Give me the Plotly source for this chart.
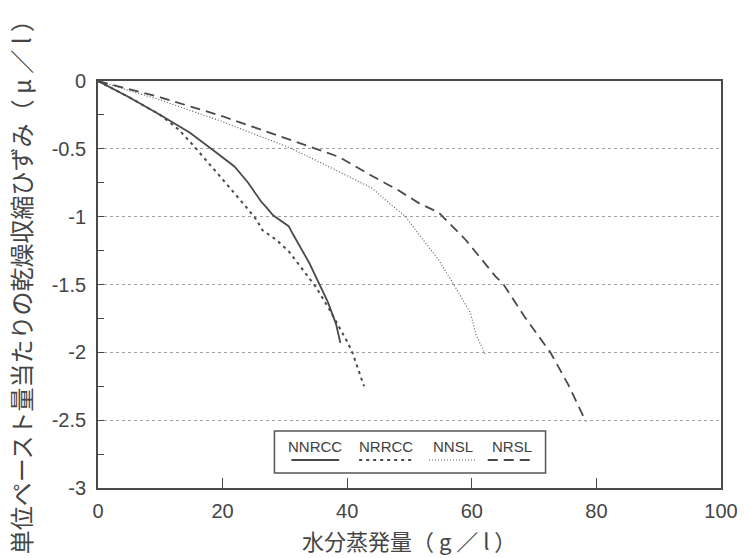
import plotly.graph_objects as go

# ---- data ----
nnrcc_x = [0, 5.0, 10.0, 14.7, 18.5, 21.9, 24.1, 26.2, 27.0, 28.1, 30.6, 31.3, 33.9, 35.5, 36.9, 38.2, 38.9]
nnrcc_y = [0, -0.12, -0.25, -0.38, -0.51, -0.63, -0.75, -0.89, -0.93, -0.99, -1.07, -1.13, -1.34, -1.49, -1.63, -1.79, -1.93]

nrrcc_x = [0, 5.0, 10.0, 13.0, 15.2, 16.3, 20.1, 23.8, 25.4, 26.4, 28.6, 30.7, 32.9, 35.0, 37.1, 38.7, 40.1, 40.9, 42.7]
nrrcc_y = [0, -0.12, -0.25, -0.36, -0.47, -0.53, -0.73, -0.93, -1.02, -1.10, -1.17, -1.26, -1.39, -1.52, -1.68, -1.81, -1.93, -2.01, -2.25]

nnsl_x = [0, 5, 10, 15, 20, 25, 30.7, 36.1, 41.4, 44.0, 46.7, 49.4, 51.5, 54.7, 57.1, 59.8, 60.6, 62.2]
nnsl_y = [0, -0.07, -0.14, -0.22, -0.30, -0.39, -0.49, -0.61, -0.73, -0.79, -0.90, -1.00, -1.13, -1.32, -1.50, -1.71, -1.86, -2.02]

nrsl_x = [0, 5, 10, 15, 20, 25, 30.7, 35, 38.7, 44, 48, 51.5, 54.7, 59, 63.8, 65.1, 68.5, 72.6, 75.5, 78.3]
nrsl_y = [0, -0.06, -0.12, -0.19, -0.26, -0.34, -0.43, -0.50, -0.56, -0.70, -0.80, -0.90, -0.97, -1.17, -1.44, -1.50, -1.74, -2.00, -2.24, -2.51]

series_names = ["NNRCC", "NRRCC", "NNSL", "NRSL"]
y_tickvals = [0, -0.5, -1, -1.5, -2, -2.5, -3]
y_ticktext = ["0", "-0.5", "-1", "-1.5", "-2", "-2.5", "-3"]
x_tickvals = [0, 20, 40, 60, 80, 100]
x_ticktext = ["0", "20", "40", "60", "80", "100"]
x_title = "水分蒸発量（ g ／ l ）"
y_title = "単位ペースト量当たりの乾燥収縮ひずみ（ μ ／ l ）"

# ---- styling ----
INK = "#4a4a4a"
styles = [
    dict(color=INK, width=1.8, dash="solid"),
    dict(color=INK, width=2.0, dash="3px,4px"),
    dict(color="#555555", width=1.1, dash="1px,2px"),
    dict(color=INK, width=1.8, dash="10px,6px"),
]

W, H = 750, 558
L, R, T, B = 98, 27, 81, 70
PW, PH = W - L - R, H - T - B


def px2x(px):
    return (px - L) / PW


def py2y(py):
    return (H - B - py) / PH


fig = go.Figure()
data = [(nnrcc_x, nnrcc_y), (nrrcc_x, nrrcc_y), (nnsl_x, nnsl_y), (nrsl_x, nrsl_y)]
for (xs, ys), name, st in zip(data, series_names, styles):
    fig.add_trace(go.Scatter(x=xs, y=ys, mode="lines", name=name, line=st,
                             showlegend=False, hoverinfo="skip"))

tickfont = dict(family="Liberation Sans, Arial, sans-serif", size=20, color="#454545")

fig.update_layout(
    width=W, height=H,
    margin=dict(l=L, r=R, t=T, b=B),
    paper_bgcolor="white", plot_bgcolor="white",
    xaxis=dict(range=[0, 100], tickvals=x_tickvals, ticktext=x_ticktext,
               ticks="inside", ticklen=10, tickwidth=1.2, tickcolor=INK,
               showline=True, linecolor=INK, linewidth=1.8, mirror=True,
               showgrid=False, zeroline=False, tickfont=tickfont,
               ticklabelstandoff=4),
    yaxis=dict(range=[-3, 0], tickvals=y_tickvals, ticktext=y_ticktext,
               ticks="inside", ticklen=6, tickwidth=1.2, tickcolor=INK,
               showline=True, linecolor=INK, linewidth=1.8, mirror=True,
               showgrid=True, gridcolor="#a0a0a0", griddash="dot", gridwidth=1,
               zeroline=False, tickfont=tickfont, ticklabelstandoff=6,
               minor=dict(dtick=0.25, ticks="inside", ticklen=6, tickwidth=1.2,
                          tickcolor=INK, showgrid=False)),
)

cjk = "Noto Sans CJK JP, sans-serif"
annotations = [
    dict(text=x_title, x=px2x(410), y=py2y(540), xref="paper", yref="paper",
         showarrow=False, xanchor="center", yanchor="middle",
         font=dict(family=cjk, size=22, color="#454545")),
    dict(text=y_title, x=px2x(20), y=py2y(281), xref="paper", yref="paper",
         showarrow=False, xanchor="center", yanchor="middle", textangle=-90,
         font=dict(family=cjk, size=24, color="#454545")),
]

# custom legend: text above line sample, inside a box
shapes = [dict(type="rect", xref="paper", yref="paper",
               x0=px2x(275), x1=px2x(547), y0=py2y(473), y1=py2y(431),
               line=dict(color="#555555", width=1.5), fillcolor="white", layer="above")]
leg_centers = [316, 387, 454, 513]
leg_halfw = [24, 27, 24, 24]
for name, cx, hw, st in zip(series_names, leg_centers, leg_halfw, styles):
    annotations.append(dict(text=name, x=px2x(cx), y=py2y(446), xref="paper", yref="paper",
                            showarrow=False, xanchor="center", yanchor="middle",
                            font=dict(family="Liberation Sans, Arial, sans-serif", size=15, color="#404040")))
    shapes.append(dict(type="line", xref="paper", yref="paper",
                       x0=px2x(cx - hw), x1=px2x(cx + hw), y0=py2y(460), y1=py2y(460),
                       line=st, layer="above"))

fig.update_layout(annotations=annotations, shapes=shapes)
fig.write_html("out.html")
